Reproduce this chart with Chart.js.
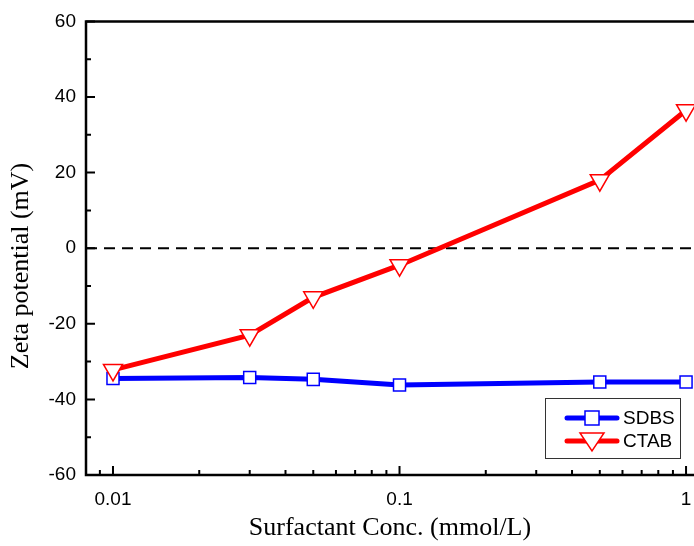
<!DOCTYPE html>
<html>
<head>
<meta charset="utf-8">
<script src="https://cdn.jsdelivr.net/npm/chart.js@4/dist/chart.umd.min.js"></script>
<style>
  body { margin: 0; background: #fff; }
  #chart { display: block; }
</style>
</head>
<body>
<canvas id="chart" width="694" height="546"></canvas>
<script>
// data
const concentrations = [0.01, 0.03, 0.05, 0.1, 0.5, 1];
const sdbsZeta = [-34.5, -34.2, -34.7, -36.2, -35.4, -35.4];
const ctabZeta = [-32.2, -23.0, -13.0, -4.5, 18.0, 36.5];

const seriesNames = ['SDBS', 'CTAB'];
const yTickValues = [-60, -40, -20, 0, 20, 40, 60];
const yMinorTicks = [-50, -30, -10, 10, 30, 50];
const xTickLabels = [0.01, 0.1, 1];
const xMinorTicks = [0.009, 0.02, 0.03, 0.04, 0.05, 0.06, 0.07, 0.08, 0.09,
                     0.2, 0.3, 0.4, 0.5, 0.6, 0.7, 0.8, 0.9];
const xMin = 0.00805;
const xMax = 1.066;

const tickFont = { family: 'Liberation Sans', size: 19 };
const titleFont = { family: 'Liberation Serif', size: 26 };

// frame, inward ticks, y title and legend box
const framePlugin = {
  id: 'frame',
  afterDraw(chart) {
    const ctx = chart.ctx;
    const area = chart.chartArea;
    const xs = chart.scales.x;
    const ys = chart.scales.y;
    ctx.save();
    ctx.strokeStyle = '#000';
    ctx.lineWidth = 2.5;
    ctx.beginPath();
    ctx.moveTo(area.right + 5, area.top);
    ctx.lineTo(area.left, area.top);
    ctx.lineTo(area.left, area.bottom);
    ctx.lineTo(area.right + 5, area.bottom);
    ctx.stroke();

    ctx.lineWidth = 2;
    ctx.beginPath();
    yTickValues.forEach(v => {
      const y = ys.getPixelForValue(v);
      ctx.moveTo(area.left, y);
      ctx.lineTo(area.left + 9, y);
    });
    yMinorTicks.forEach(v => {
      const y = ys.getPixelForValue(v);
      ctx.moveTo(area.left, y);
      ctx.lineTo(area.left + 5, y);
    });
    xTickLabels.forEach(v => {
      const x = xs.getPixelForValue(v);
      ctx.moveTo(x, area.bottom);
      ctx.lineTo(x, area.bottom - 9);
    });
    xMinorTicks.forEach(v => {
      const x = xs.getPixelForValue(v);
      ctx.moveTo(x, area.bottom);
      ctx.lineTo(x, area.bottom - 5);
    });
    ctx.stroke();

    // y axis title
    ctx.save();
    ctx.translate(21, 266);
    ctx.rotate(-Math.PI / 2);
    ctx.font = titleFont.size + 'px ' + titleFont.family;
    ctx.fillStyle = '#000';
    ctx.textAlign = 'center';
    ctx.textBaseline = 'middle';
    ctx.fillText('Zeta potential (mV)', 0, 0);
    ctx.restore();

    // legend
    const bx = 545, by = 398, bw = 135, bh = 60;
    ctx.lineWidth = 1;
    ctx.strokeStyle = '#333';
    ctx.fillStyle = '#fff';
    ctx.fillRect(bx, by, bw, bh);
    ctx.strokeRect(bx + 0.5, by + 0.5, bw, bh);
    ctx.font = tickFont.size + 'px ' + tickFont.family;
    ctx.textBaseline = 'middle';
    chart.data.datasets.slice(0, 2).forEach((ds, i) => {
      const y = by + 20 + i * 23;
      ctx.strokeStyle = ds.borderColor;
      ctx.lineWidth = 5;
      ctx.lineCap = 'round';
      ctx.beginPath();
      ctx.moveTo(bx + 22, y);
      ctx.lineTo(bx + 72, y);
      ctx.stroke();
      ctx.fillStyle = '#fff';
      ctx.strokeStyle = ds.pointBorderColor;
      ctx.lineWidth = 1.5;
      ctx.beginPath();
      if (ds.pointStyle === 'rect') {
        ctx.rect(bx + 40, y - 7, 14, 14);
      } else {
        ctx.moveTo(bx + 35, y - 8);
        ctx.lineTo(bx + 59, y - 8);
        ctx.lineTo(bx + 47, y + 10);
        ctx.closePath();
      }
      ctx.fill();
      ctx.stroke();
      ctx.fillStyle = '#000';
      ctx.fillText(ds.label, bx + 78, y + 1);
    });
    ctx.restore();
  }
};

new Chart(document.getElementById('chart'), {
  type: 'line',
  data: {
    datasets: [
      {
        label: seriesNames[0],
        data: concentrations.map((c, i) => ({ x: c, y: sdbsZeta[i] })),
        borderColor: '#0000ff',
        borderWidth: 5,
        pointStyle: 'rect',
        pointRadius: 8.5,
        pointBackgroundColor: '#fff',
        pointBorderColor: '#0000ff',
        pointBorderWidth: 1.5,
        clip: false,
        order: 2
      },
      {
        label: seriesNames[1],
        data: concentrations.map((c, i) => ({ x: c, y: ctabZeta[i] })),
        borderColor: '#ff0000',
        borderWidth: 5,
        pointStyle: 'triangle',
        rotation: 180,
        pointRadius: 11,
        pointBackgroundColor: '#fff',
        pointBorderColor: '#ff0000',
        pointBorderWidth: 1.5,
        clip: false,
        order: 1
      },
      {
        label: 'zero',
        data: [{ x: xMin, y: 0 }, { x: xMax, y: 0 }],
        borderColor: '#000',
        borderWidth: 2,
        borderDash: [11, 7],
        pointRadius: 0,
        order: 3
      }
    ]
  },
  options: {
    responsive: false,
    animation: false,
    layout: {
      autoPadding: false,
      padding: { top: 19, right: 0, left: 0, bottom: 0 }
    },
    plugins: {
      legend: { display: false },
      tooltip: { enabled: false }
    },
    scales: {
      x: {
        type: 'logarithmic',
        min: xMin,
        max: xMax,
        afterBuildTicks: s => { s.ticks = xTickLabels.map(v => ({ value: v })); },
        afterFit: s => {
          s.height = 71;
          s.paddingLeft = 0;
          s.paddingRight = 0;
        },
        ticks: {
          callback: v => String(v),
          font: tickFont,
          color: '#000',
          padding: 13,
          autoSkip: false,
          maxRotation: 0
        },
        grid: { display: false, drawTicks: false },
        border: { display: false },
        title: {
          display: true,
          text: 'Surfactant Conc. (mmol/L)',
          font: titleFont,
          color: '#000',
          padding: { top: 0, bottom: 2 }
        }
      },
      y: {
        min: -60,
        max: 60,
        afterBuildTicks: s => { s.ticks = yTickValues.map(v => ({ value: v })); },
        afterFit: s => { s.width = 86; },
        ticks: {
          font: tickFont,
          color: '#000',
          padding: 10
        },
        grid: { display: false, drawTicks: false },
        border: { display: false }
      }
    }
  },
  plugins: [framePlugin]
});
</script>
</body>
</html>
